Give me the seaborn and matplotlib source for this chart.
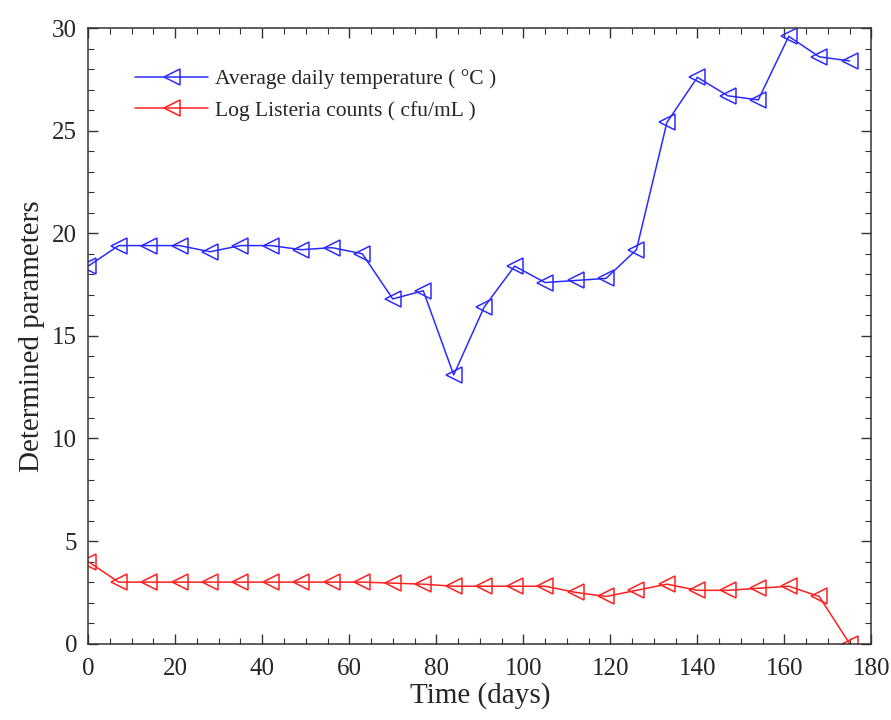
import numpy as np
import pandas as pd
import seaborn as sns
import matplotlib.pyplot as plt
from matplotlib.ticker import MultipleLocator

# sampling days
days = [0, 7, 14, 21, 28, 35, 42, 49, 56, 63, 70, 77, 84, 91, 98, 105,
        112, 119, 126, 133, 140, 147, 154, 161, 168, 175]

# average daily temperature (°C)
temp = [18.4, 19.4, 19.4, 19.4, 19.1, 19.4, 19.4, 19.2, 19.3, 19.0, 16.8, 17.2,
        13.1, 16.4, 18.4, 17.6, 17.7, 17.8, 19.2, 25.4, 27.6, 26.7, 26.5, 29.6,
        28.6, 28.4]

# log Listeria counts (cfu/mL)
listeria = [4.0, 3.0, 3.0, 3.0, 3.0, 3.0, 3.0, 3.0, 3.0, 3.0, 2.95, 2.9, 2.8,
            2.8, 2.8, 2.8, 2.5, 2.3, 2.6, 2.9, 2.6, 2.6, 2.7, 2.8, 2.3, 0.0]

labels = ['Average daily temperature ( \u00b0C )',
          'Log Listeria counts ( cfu/mL )']

df = pd.DataFrame({'day': days, 'temp': temp, 'listeria': listeria})

sns.set_style('ticks')
plt.rcParams['font.family'] = ['Liberation Serif', 'DejaVu Serif']

fig = plt.figure(figsize=(8.91, 7.2), dpi=100)
ax = fig.add_axes([0.099, 0.106, 0.879, 0.855])

style = dict(marker='<', markersize=12, markerfacecolor='none',
             markeredgewidth=1.1, linewidth=1.1)
sns.lineplot(ax=ax, data=df, x='day', y='temp', color='#2b2bff',
             markeredgecolor='#2b2bff', label=labels[0], **style)
sns.lineplot(ax=ax, data=df, x='day', y='listeria', color='#ff2020',
             markeredgecolor='#ff2020', label=labels[1], **style)

ax.set_xlim(0, 180)
ax.set_ylim(0, 30)
ax.xaxis.set_major_locator(MultipleLocator(20))
ax.xaxis.set_minor_locator(MultipleLocator(5))
ax.yaxis.set_major_locator(MultipleLocator(5))
ax.yaxis.set_minor_locator(MultipleLocator(1))
ax.tick_params(which='both', direction='in', top=True, right=True,
               labelsize=18, color='#333333')
ax.tick_params(axis='x', which='major', pad=10)
ax.tick_params(axis='y', which='major', pad=8)
ax.tick_params(which='major', length=7, width=1)
ax.tick_params(which='minor', length=4, width=0.8)
for s in ax.spines.values():
    s.set_linewidth(1.1)
    s.set_color('#333333')

ax.set_xlabel('Time (days)', fontsize=21, labelpad=2)
ax.set_ylabel('Determined parameters', fontsize=21, labelpad=5)

ax.legend(loc='upper left', bbox_to_anchor=(0.035, 0.965), frameon=False,
          fontsize=15.5, handlelength=3.4, handletextpad=0.3, labelspacing=0.55)

fig.savefig('out.png', dpi=100)
